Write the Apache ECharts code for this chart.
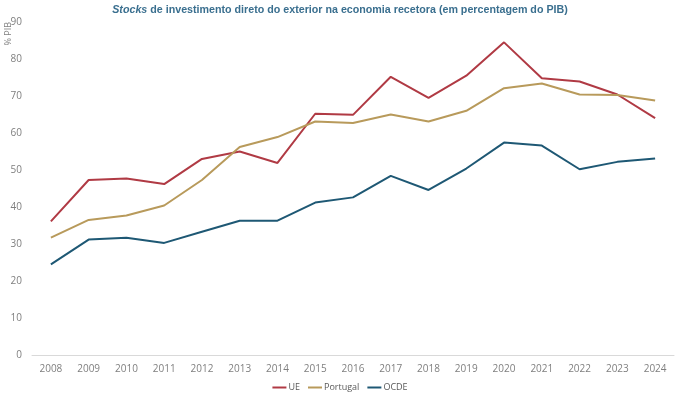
<!DOCTYPE html>
<html>
<head>
<meta charset="utf-8">
<script src="https://cdn.jsdelivr.net/npm/echarts@6/dist/echarts.min.js"></script>
<style>html,body{margin:0;padding:0;background:#fff}#c{width:680px;height:397px}</style>
</head>
<body>
<div id="c"></div>
<script>
const years = ['2008','2009','2010','2011','2012','2013','2014','2015','2016','2017','2018','2019','2020','2021','2022','2023','2024'];
const ue = [36.1,47.3,47.7,46.2,53.0,55.0,51.9,65.2,64.9,75.2,69.5,75.5,84.5,74.8,73.9,70.4,64.0];
const portugal = [31.7,36.5,37.7,40.4,47.3,56.2,58.9,63.1,62.7,65.0,63.1,66.0,72.1,73.4,70.4,70.3,68.8];
const ocde = [24.5,31.2,31.7,30.3,33.3,36.3,36.3,41.2,42.6,48.4,44.6,50.4,57.4,56.6,50.2,52.2,53.1];
const yTicks = {min:0, max:90, interval:10};

const chart = echarts.init(document.getElementById('c'));
const lbl = {color:'#7f7f7f', fontSize:10, fontFamily:'Open Sans'};
chart.setOption({
  animation:false,
  title:{
    text:'{i|Stocks} de investimento direto do exterior na economia recetora (em percentagem do PIB)',
    left:'center', top:0,
    textStyle:{fontSize:10.7, fontWeight:'bold', color:'#3a6f8f', fontFamily:'Liberation Sans',
      rich:{i:{fontStyle:'italic', fontWeight:'bold', fontSize:10.7, color:'#3a6f8f', fontFamily:'Liberation Sans'}}}
  },
  graphic:[{
    type:'text', left:4, top:22, rotation:Math.PI/2,
    style:{text:'% PIB', fill:'#7f7f7f', fontSize:9, fontFamily:'Open Sans'}
  }],
  legend:{
    bottom:0, left:'center', itemWidth:14, itemHeight:2, itemGap:8,
    icon:'rect',
    textStyle:{color:'#595959', fontSize:9, fontFamily:'Open Sans', padding:[0,0,0,-3]},
    data:['UE','Portugal','OCDE']
  },
  grid:{left:32, right:6, top:22, bottom:42, containLabel:false},
  xAxis:{
    type:'category', data:years, boundaryGap:true,
    axisLine:{lineStyle:{color:'#d9d9d9'}}, axisTick:{show:false},
    axisLabel:Object.assign({margin:9}, lbl)
  },
  yAxis:{
    type:'value', min:yTicks.min, max:yTicks.max, interval:yTicks.interval,
    splitLine:{show:false}, axisLine:{show:false}, axisTick:{show:false},
    axisLabel:Object.assign({margin:10}, lbl)
  },
  series:[
    {name:'UE', type:'line', data:ue, symbol:'none', lineStyle:{width:2, color:'#b03a44'}, itemStyle:{color:'#b03a44'}},
    {name:'Portugal', type:'line', data:portugal, symbol:'none', lineStyle:{width:2, color:'#b89a5b'}, itemStyle:{color:'#b89a5b'}},
    {name:'OCDE', type:'line', data:ocde, symbol:'none', lineStyle:{width:2, color:'#1e5874'}, itemStyle:{color:'#1e5874'}}
  ]
});
</script>
</body>
</html>
